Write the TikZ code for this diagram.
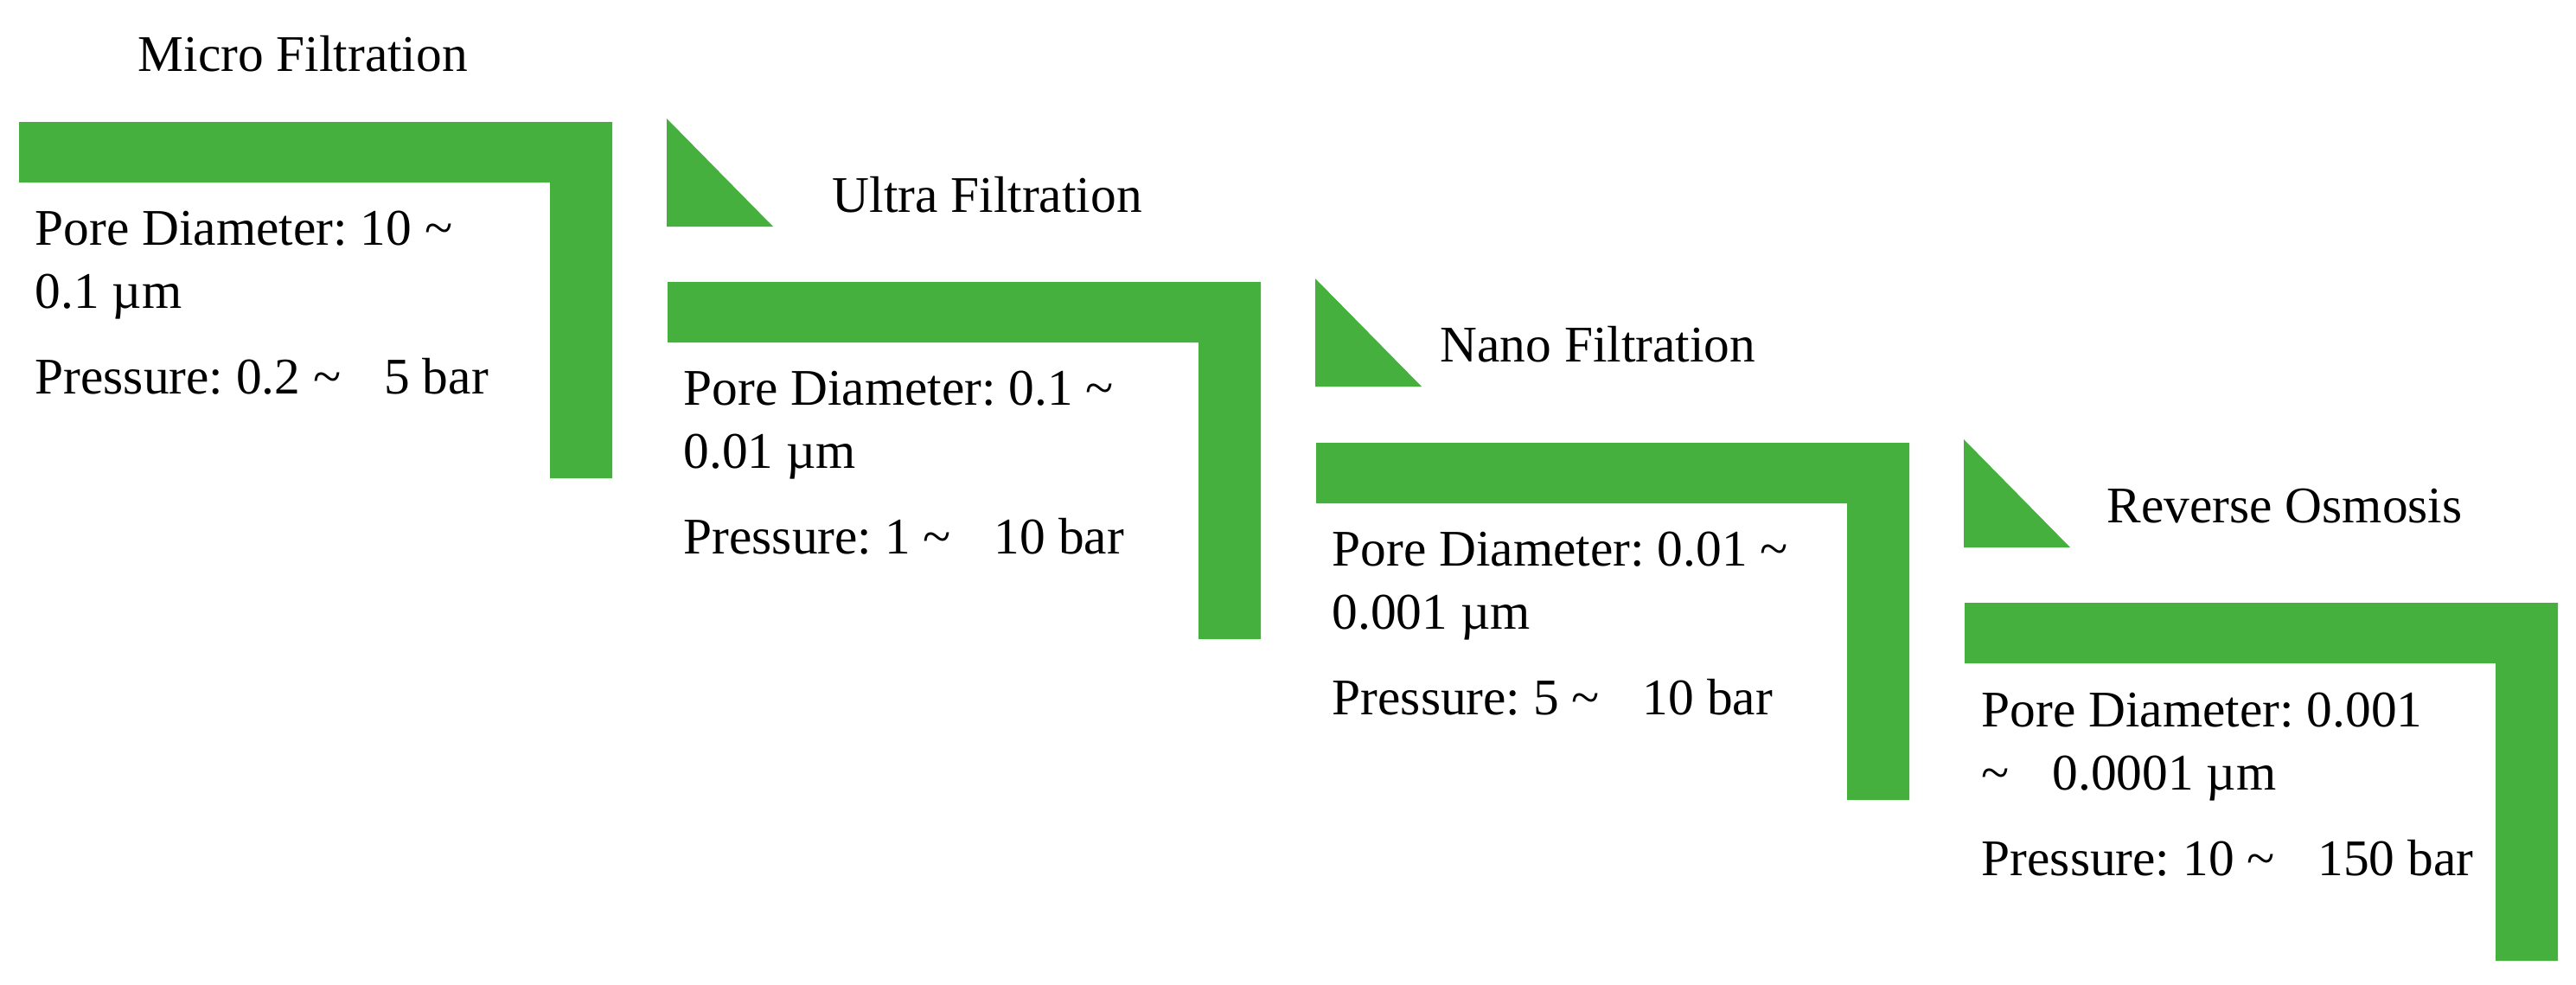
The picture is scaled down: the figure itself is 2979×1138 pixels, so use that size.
\documentclass[tikz,border=0pt]{standalone}
\usepackage{fontspec}
\setmainfont{Liberation Serif}
\usepackage{xcolor}
\usepackage{tikz}
\usetikzlibrary{positioning}
\definecolor{mfgreen}{RGB}{69,176,62}
\frenchspacing

\begin{document}
\begin{tikzpicture}[x=0.1mm, y=-0.1mm,
    membrane/.style={fill=mfgreen},
    txt/.style={anchor=base west, inner sep=0pt, font=\fontsize{16.9}{20}\selectfont}]
    \useasboundingbox (0,0) rectangle (2979,1138);

    % Micro Filtration
    \fill[membrane] (22,141) -- (708,141) -- (708,553) -- (636,553) -- (636,211) -- (22,211) -- cycle;
    \node[txt] (micro) at (159,82) {Micro Filtration};
    \node[txt] (micro-pore) at (40,283) {Pore Diameter: 10 \textasciitilde};
    \node[txt] (micro-um) at (40,356) {0.1 µm};
    \node[txt] (micro-bar) at (40,455) {Pressure: 0.2 \textasciitilde\hspace{0.84em}5 bar};

    % Ultra Filtration
    \fill[membrane] (771,137) -- (771,262) -- (894,262) -- cycle;
    \fill[membrane] (772,326) -- (1458,326) -- (1458,739) -- (1386,739) -- (1386,396) -- (772,396) -- cycle;
    \node[txt] (ultra) at (962,245) {Ultra Filtration};
    \node[txt] (ultra-pore) at (790,468) {Pore Diameter: 0.1 \textasciitilde};
    \node[txt] (ultra-um) at (790,541) {0.01 µm};
    \node[txt] (ultra-bar) at (790,640) {Pressure: 1 \textasciitilde\hspace{0.84em}10 bar};

    % Nano Filtration
    \fill[membrane] (1521,322) -- (1521,447) -- (1644,447) -- cycle;
    \fill[membrane] (1522,512) -- (2208,512) -- (2208,925) -- (2136,925) -- (2136,582) -- (1522,582) -- cycle;
    \node[txt] (nano) at (1665,418) {Nano Filtration};
    \node[txt] (nano-pore) at (1540,654) {Pore Diameter: 0.01 \textasciitilde};
    \node[txt] (nano-um) at (1540,727) {0.001 µm};
    \node[txt] (nano-bar) at (1540,826) {Pressure: 5 \textasciitilde\hspace{0.84em}10 bar};

    % Reverse Osmosis
    \fill[membrane] (2271,508) -- (2271,633) -- (2394,633) -- cycle;
    \fill[membrane] (2272,697) -- (2958,697) -- (2958,1111) -- (2886,1111) -- (2886,767) -- (2272,767) -- cycle;
    \node[txt] (ro) at (2436,604) {Reverse Osmosis};
    \node[txt] (ro-pore) at (2291,840) {Pore Diameter: 0.001};
    \node[txt] (ro-um) at (2291,913) {\textasciitilde\hspace{0.84em}0.0001 µm};
    \node[txt] (ro-bar) at (2291,1012) {Pressure: 10 \textasciitilde\hspace{0.84em}150 bar};
\end{tikzpicture}
\end{document}
